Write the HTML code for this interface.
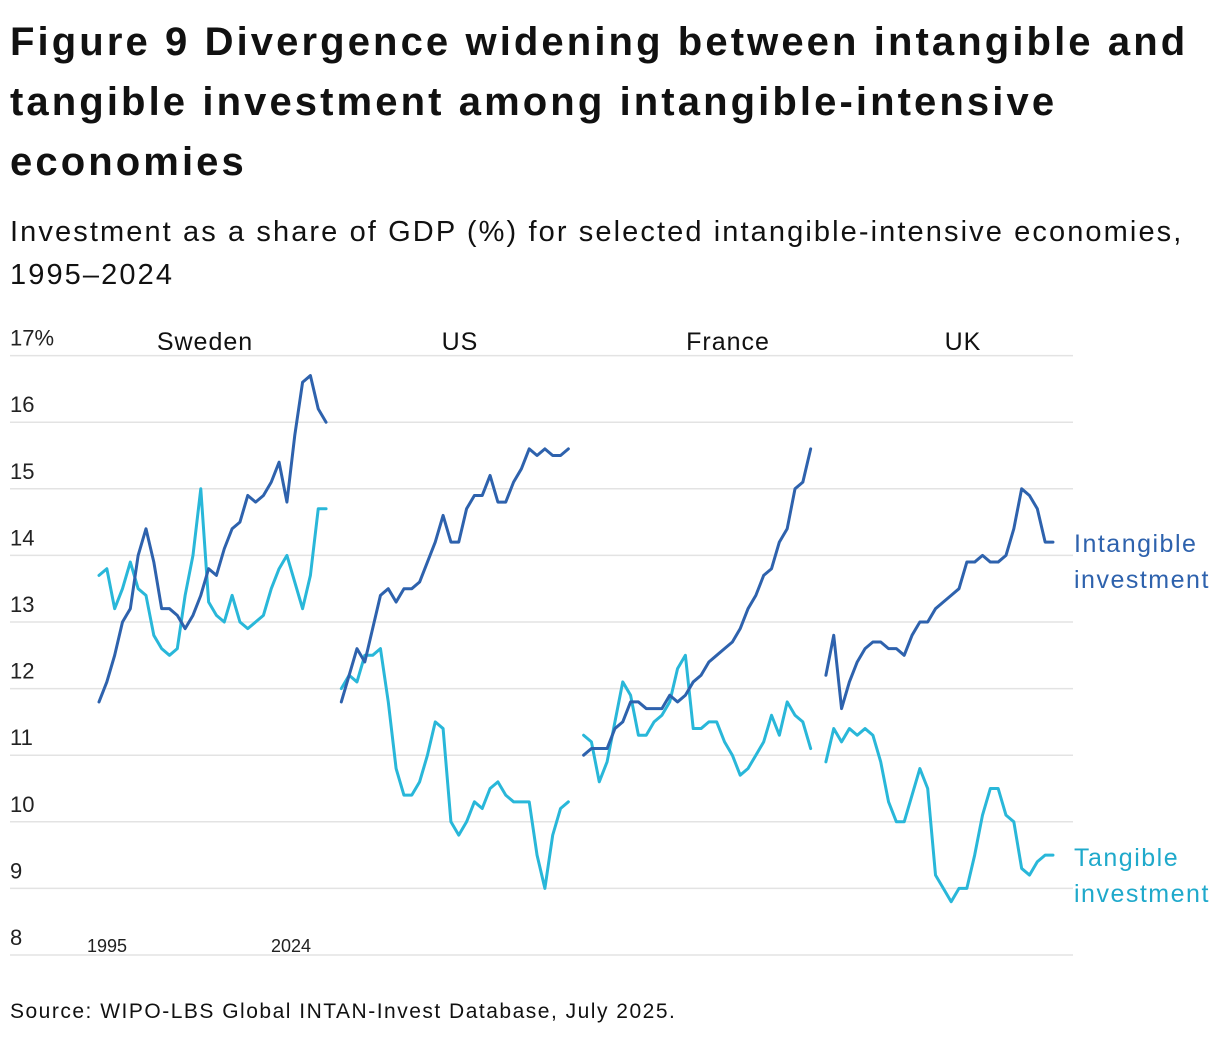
<!DOCTYPE html>
<html><head><meta charset="utf-8"><style>
body{margin:0;width:1220px;height:1040px;background:#fff;font-family:"Liberation Sans",sans-serif;color:#111;overflow:hidden;position:relative}
.t{position:absolute;left:10px;top:12px;font-weight:bold;font-size:40px;line-height:60px;white-space:nowrap;letter-spacing:3.1px}
.s{position:absolute;left:10px;top:211px;font-size:29px;line-height:43px;white-space:nowrap;letter-spacing:2.1px}
.src{position:absolute;left:10px;top:1000px;font-size:21px;letter-spacing:1.5px;white-space:nowrap}
svg{position:absolute;left:0;top:0}
</style></head><body>
<div class="t">Figure 9 Divergence widening between intangible and<br>tangible investment among intangible-intensive<br>economies</div>
<div class="s">Investment as a share of GDP (%) for selected intangible-intensive economies,<br>1995–2024</div>
<div class="src">Source: WIPO-LBS Global INTAN-Invest Database, July 2025.</div>
<svg id="c" width="1220" height="1040"></svg>
<script>
const countries=["Sweden","US","France","UK"];
const yTicks=[8,9,10,11,12,13,14,15,16,17];
const sweInt=[11.8,12.1,12.5,13.0,13.2,14.0,14.4,13.9,13.2,13.2,13.1,12.9,13.1,13.4,13.8,13.7,14.1,14.4,14.5,14.9,14.8,14.9,15.1,15.4,14.8,15.8,16.6,16.7,16.2,16.0];
const sweTan=[13.7,13.8,13.2,13.5,13.9,13.5,13.4,12.8,12.6,12.5,12.6,13.4,14.0,15.0,13.3,13.1,13.0,13.4,13.0,12.9,13.0,13.1,13.5,13.8,14.0,13.6,13.2,13.7,14.7,14.7];
const usInt=[11.8,12.2,12.6,12.4,12.9,13.4,13.5,13.3,13.5,13.5,13.6,13.9,14.2,14.6,14.2,14.2,14.7,14.9,14.9,15.2,14.8,14.8,15.1,15.3,15.6,15.5,15.6,15.5,15.5,15.6];
const usTan=[12.0,12.2,12.1,12.5,12.5,12.6,11.8,10.8,10.4,10.4,10.6,11.0,11.5,11.4,10.0,9.8,10.0,10.3,10.2,10.5,10.6,10.4,10.3,10.3,10.3,9.5,9.0,9.8,10.2,10.3];
const frInt=[11.0,11.1,11.1,11.1,11.4,11.5,11.8,11.8,11.7,11.7,11.7,11.9,11.8,11.9,12.1,12.2,12.4,12.5,12.6,12.7,12.9,13.2,13.4,13.7,13.8,14.2,14.4,15.0,15.1,15.6];
const frTan=[11.3,11.2,10.6,10.9,11.5,12.1,11.9,11.3,11.3,11.5,11.6,11.8,12.3,12.5,11.4,11.4,11.5,11.5,11.2,11.0,10.7,10.8,11.0,11.2,11.6,11.3,11.8,11.6,11.5,11.1];
const ukInt=[12.2,12.8,11.7,12.1,12.4,12.6,12.7,12.7,12.6,12.6,12.5,12.8,13.0,13.0,13.2,13.3,13.4,13.5,13.9,13.9,14.0,13.9,13.9,14.0,14.4,15.0,14.9,14.7,14.2,14.2];
const ukTan=[10.9,11.4,11.2,11.4,11.3,11.4,11.3,10.9,10.3,10.0,10.0,10.4,10.8,10.5,9.2,9.0,8.8,9.0,9.0,9.5,10.1,10.5,10.5,10.1,10.0,9.3,9.2,9.4,9.5,9.5];
const intSeries=[sweInt,usInt,frInt,ukInt];
const tanSeries=[sweTan,usTan,frTan,ukTan];
const NS="http://www.w3.org/2000/svg",svg=document.getElementById('c');
const y=v=>955-(v-8)*66.6;
const x=(p,i)=>99+p*242.3+i*7.83;
function mk(t,a){const e=document.createElementNS(NS,t);for(const k in a)e.setAttribute(k,a[k]);svg.appendChild(e);return e;}
yTicks.forEach(v=>{
 const l=mk('line',{x1:10,x2:1073,y1:y(v),y2:y(v),stroke:'#e3e3e3','stroke-width':1.5});
 
 
 const t=mk('text',{x:10,y:y(v)-10,'font-size':22,fill:'#222'});t.textContent=v+(v===17?'%':'');
 
 
});
const labX=[205,460,728,963];
countries.forEach((c,p)=>{
 const t=mk('text',{x:labX[p],y:350,'font-size':25,'text-anchor':'middle',fill:'#111','letter-spacing':1});t.textContent=c;
 
 
 [[tanSeries[p],'#29b7d9','tangible'],[intSeries[p],'#2e62ad','intangible']].forEach(([s,col,n])=>{
  const pl=mk('polyline',{points:s.map((v,i)=>x(p,i)+','+y(v)).join(' '),fill:'none',stroke:col,'stroke-width':3,'stroke-linejoin':'round','stroke-linecap':'round'});
  
  
 });
});
[["1995",107],["2024",291]].forEach(([s,px])=>{const t=mk('text',{x:px,y:952,'font-size':18,'text-anchor':'middle',fill:'#222'});t.textContent=s;
 
 });
[["Intangible",552,'#2e62ad'],["investment",588,'#2e62ad'],["Tangible",866,'#1fa9cb'],["investment",902,'#1fa9cb']].forEach(([s,py,col],i)=>{
 const t=mk('text',{x:1074,y:py,'font-size':25,fill:col,'letter-spacing':1.5});t.textContent=s;
 
 
});
</script>
</body></html>
